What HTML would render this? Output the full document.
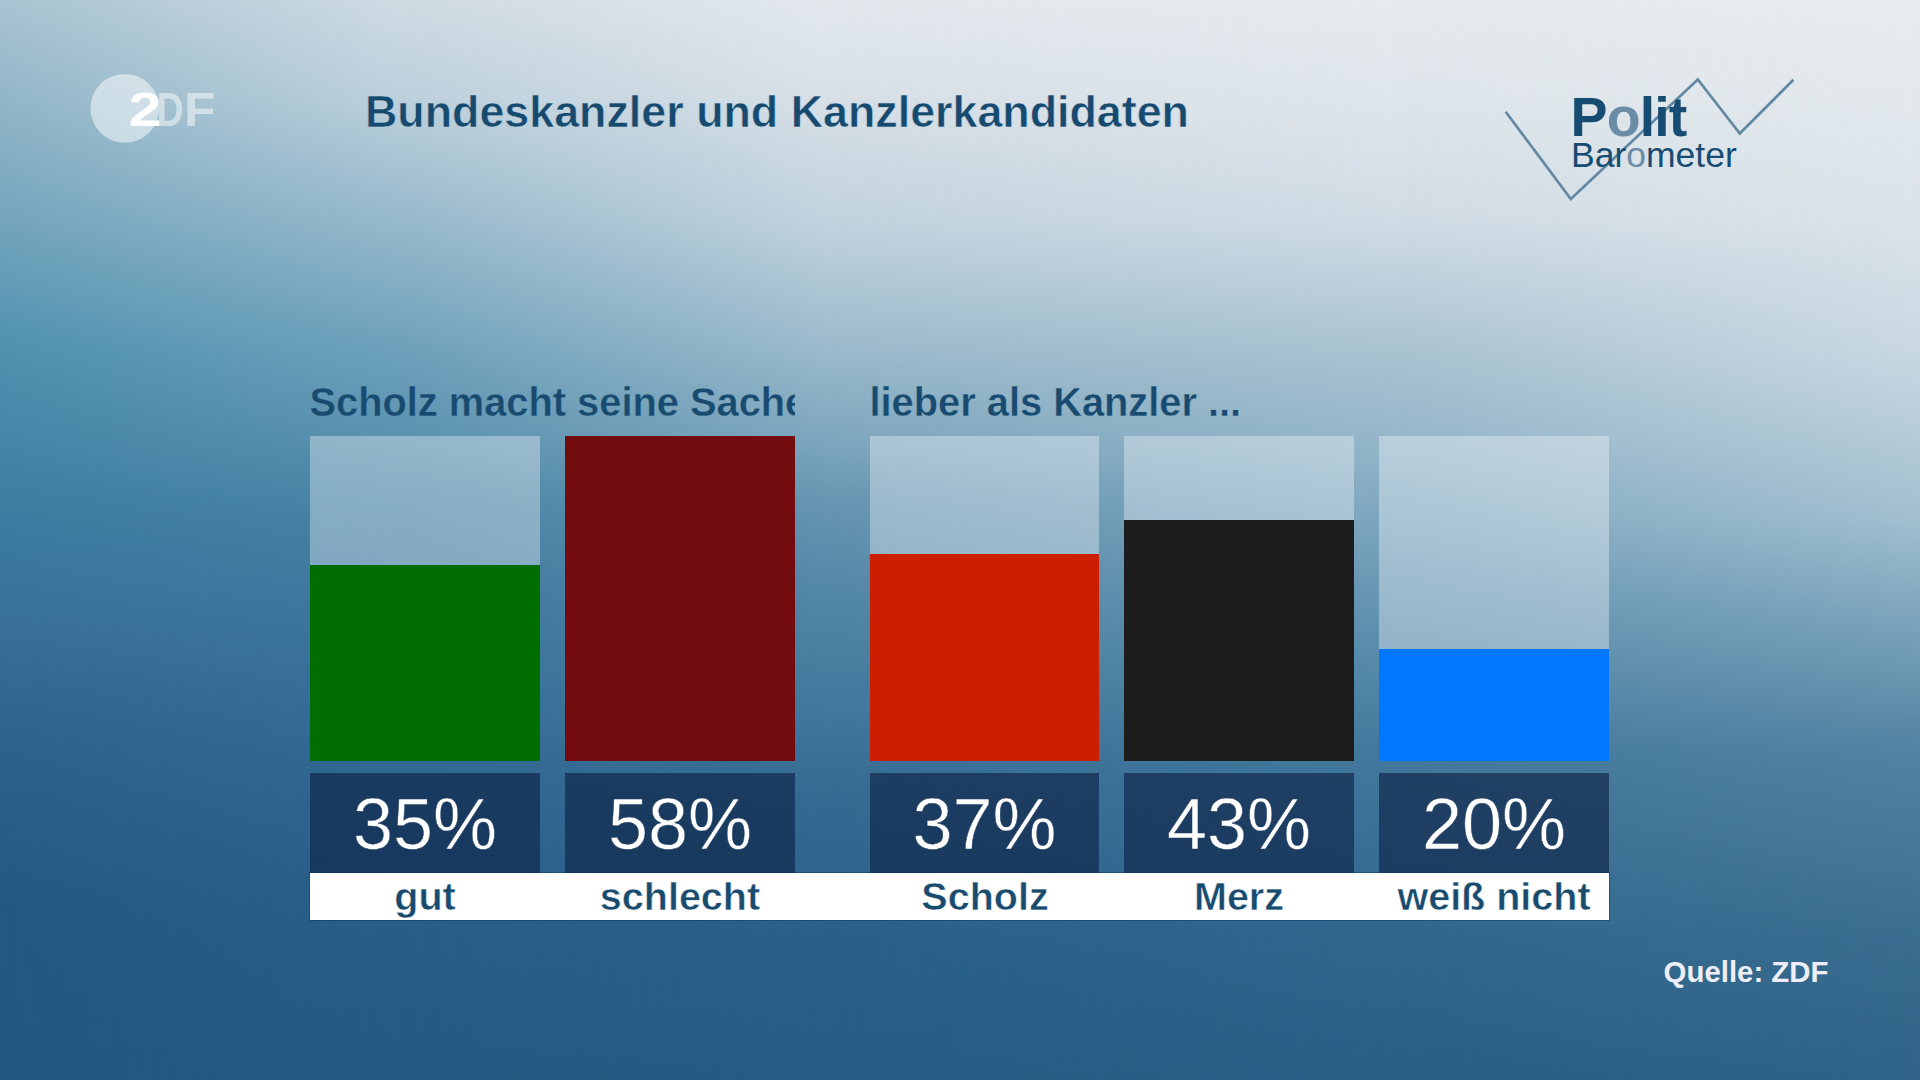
<!DOCTYPE html>
<html lang="de">
<head>
<meta charset="utf-8">
<title>Politbarometer – Bundeskanzler und Kanzlerkandidaten</title>
<style>
*{margin:0;padding:0;box-sizing:border-box}
html,body{width:1920px;height:1080px;overflow:hidden}
body{position:relative;font-family:"Liberation Sans",Arial,sans-serif;
 background:#2a5a82;}
#bg{position:absolute;left:0;top:0;width:1920px;height:1080px}
.bgl{position:absolute;left:0;top:0;width:1920px;height:1080px}
.abs{position:absolute}
#title{position:absolute;left:365px;top:86px;font-size:44.8px;font-weight:700;color:#174a6f;-webkit-text-stroke-width:0.6px;white-space:nowrap;letter-spacing:0px}
.sub{position:absolute;top:380px;font-size:39.8px;font-weight:700;color:#184b6f;-webkit-text-stroke-width:0.4px;white-space:nowrap;overflow:hidden}
.bar{position:absolute;top:436px;width:230px;height:325px;background:rgba(255,255,255,0.34)}
.fill{position:absolute;left:0;bottom:0;width:100%}
.pct{position:absolute;top:773px;width:230px;height:100px;background:rgba(14,35,70,0.65);color:#fff;-webkit-text-stroke:0.5px #1c3c60;font-size:72px;text-align:center;line-height:103px}
#band{position:absolute;left:310px;top:873px;width:1299px;height:46.5px;background:#fff;box-shadow:0 0 0 1px rgba(8,50,100,0.45)}
.lab{position:absolute;top:873px;width:230px;height:46px;text-align:center;font-size:39.5px;font-weight:700;color:#194b6f;-webkit-text-stroke:0.5px #fff;line-height:46px;white-space:nowrap}
#quelle{position:absolute;right:91.5px;top:955px;font-size:29.4px;font-weight:700;color:#eeeef8;white-space:nowrap}
</style>
</head>
<body>
<div id="bg">
<div class="bgl" style="background:linear-gradient(to bottom,#a9c4d2 0px,#92b6c8 100px,#74a5bd 220px,#4f92b0 350px,#4787a8 430px,#3b799e 540px,#3a739b 600px,#2c628d 750px,#245983 900px,#235882 1080px)"></div>
<div class="bgl" style="background:linear-gradient(to bottom,#cfdbe3 0px,#bcd0dc 100px,#97b9cb 220px,#6ea1bb 350px,#5890ae 450px,#4985a6 500px,#3f789e 600px,#2f6690 800px,#275d87 940px,#245a83 1080px);-webkit-mask-image:linear-gradient(to right,transparent 0px,#000 400px);mask-image:linear-gradient(to right,transparent 0px,#000 400px)"></div>
<div class="bgl" style="background:linear-gradient(to bottom,#e3e8ed 0px,#d7e0e7 100px,#c2d3de 220px,#9bbacb 350px,#7aa4bc 450px,#6796b2 500px,#5286a6 600px,#43799d 700px,#356a91 800px,#29608a 940px,#265c83 1080px);-webkit-mask-image:linear-gradient(to right,transparent 400px,#000 830px);mask-image:linear-gradient(to right,transparent 400px,#000 830px)"></div>
<div class="bgl" style="background:linear-gradient(to bottom,#e6eaee 0px,#dee5ea 100px,#d0dce5 220px,#aac3d1 350px,#93b5c9 450px,#6696b3 600px,#43799d 750px,#31668c 940px,#2a5e85 1080px);-webkit-mask-image:linear-gradient(to right,transparent 830px,#000 1400px);mask-image:linear-gradient(to right,transparent 830px,#000 1400px)"></div>
<div class="bgl" style="background:linear-gradient(to bottom,#e7ebee 0px,#e2e8ec 100px,#dae3ea 220px,#c9d8e2 350px,#b2c9d6 450px,#a1bfcf 520px,#83a9bf 600px,#5283a2 750px,#3a6d90 940px,#2f6286 1080px);-webkit-mask-image:linear-gradient(to right,transparent 1400px,#000 1920px);mask-image:linear-gradient(to right,transparent 1400px,#000 1920px)"></div>
</div>

<!-- ZDF logo -->
<svg class="abs" style="left:0;top:0" width="260" height="180" viewBox="0 0 260 180">
  <circle cx="124.8" cy="108.4" r="34.4" fill="rgba(255,255,255,0.5)"/>
  <g font-family="Liberation Sans, sans-serif" font-weight="700" font-size="48">
  <text x="128.5" y="125.5" fill="#fff" textLength="33" lengthAdjust="spacingAndGlyphs">2</text>
  <text x="156.5" y="125.5" fill="rgba(255,255,255,0.5)" textLength="27" lengthAdjust="spacingAndGlyphs">D</text>
  <text x="184" y="125.5" fill="rgba(255,255,255,0.5)" textLength="31.5" lengthAdjust="spacingAndGlyphs">F</text>
  </g>
</svg>

<div id="title"><span style="-webkit-text-stroke-color:#bdd0dc">Bundes</span><span style="-webkit-text-stroke-color:#c3d5df">kanzler</span> <span style="-webkit-text-stroke-color:#cadae2">und</span> <span style="-webkit-text-stroke-color:#cfdce4">Kanzler</span><span style="-webkit-text-stroke-color:#d3dee6">kandidaten</span></div>

<!-- Politbarometer logo -->
<svg class="abs" style="left:1480px;top:60px" width="340" height="160" viewBox="1480 60 340 160">
  <polyline points="1505.7,111.7 1570.8,199 1697.8,79.5 1739.8,133.5 1793.4,79.8" fill="none" stroke="#6388a1" stroke-width="2.7"/>
  <text x="1570.5" y="136" font-family="Liberation Sans, sans-serif" font-weight="700" font-size="55.5" fill="#174c72" letter-spacing="-0.9">P<tspan fill="#6b8ca6">o</tspan>lit</text>
  <text x="1571" y="167" font-family="Liberation Sans, sans-serif" font-size="35.5" fill="#174c72">Bar<tspan fill="#6b8ca6">o</tspan>meter</text>
</svg>

<div class="sub" style="left:309.5px;width:485.5px"><span style="-webkit-text-stroke-color:#5f96b3">Scholz</span> <span style="-webkit-text-stroke-color:#6a9cb8">macht</span> <span style="-webkit-text-stroke-color:#77a3bc">seine</span> <span style="-webkit-text-stroke-color:#84abc1">Sache</span></div>
<div class="sub" style="left:869.5px;width:500px"><span style="-webkit-text-stroke-color:#8fb1c5">lieber</span> <span style="-webkit-text-stroke-color:#93b4c7">als</span> <span style="-webkit-text-stroke-color:#97b7c9">Kanzler</span> <span style="-webkit-text-stroke-color:#9abacb">...</span></div>

<div class="bar" style="left:310px"><div class="fill" style="height:196px;background:#006e00"></div></div>
<div class="bar" style="left:565px"><div class="fill" style="height:325px;background:#720c0e"></div></div>
<div class="bar" style="left:870px;width:229px"><div class="fill" style="height:207px;background:#cc1e00"></div></div>
<div class="bar" style="left:1124px"><div class="fill" style="height:241px;background:#1c1c1c"></div></div>
<div class="bar" style="left:1379px"><div class="fill" style="height:112px;background:#0077ff"></div></div>

<div class="pct" style="left:310px">35%</div>
<div class="pct" style="left:565px">58%</div>
<div class="pct" style="left:870px;width:229px">37%</div>
<div class="pct" style="left:1124px">43%</div>
<div class="pct" style="left:1379px">20%</div>

<div id="band"></div>
<div class="lab" style="left:310px">gut</div>
<div class="lab" style="left:565px">schlecht</div>
<div class="lab" style="left:870px">Scholz</div>
<div class="lab" style="left:1124px">Merz</div>
<div class="lab" style="left:1379px">weiß nicht</div>

<div id="quelle">Quelle: ZDF</div>
</body>
</html>
